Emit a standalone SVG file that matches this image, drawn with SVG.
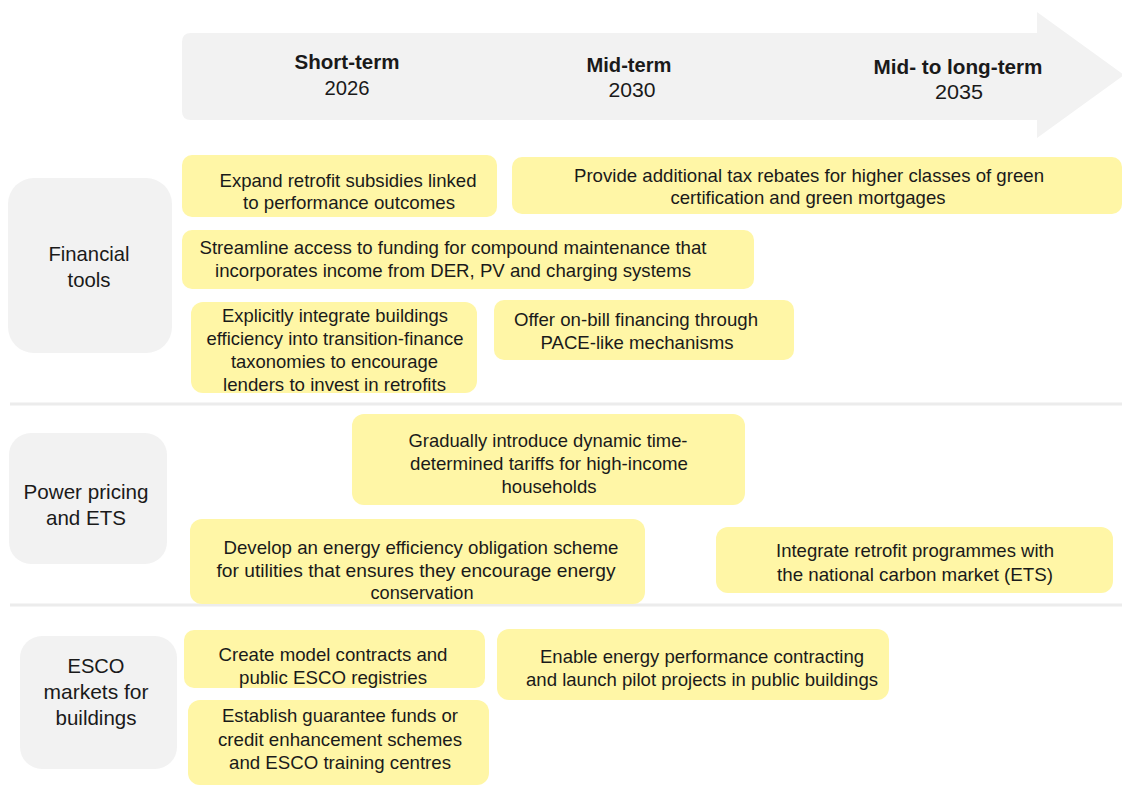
<svg xmlns="http://www.w3.org/2000/svg" width="1122" height="787" viewBox="0 0 1122 787">
<style>
text{font-family:"Liberation Sans",Arial,sans-serif;fill:#1a1a1a;text-anchor:middle}
.t{font-size:18.5px}
.h{font-size:20.5px;font-weight:bold}
.y{font-size:20px}
.cat{font-size:21px}
.yb{fill:#fff6a6}
.gb{fill:#f2f2f2}
.div{stroke:#ececec;stroke-width:3}
</style>
<rect width="1122" height="787" fill="#ffffff"/>
<g id="timeline">
<path class="gb" d="M191,33 H1037 V12 L1124,75 L1037,138 V120 H191 Q182,120 182,111 V42 Q182,33 191,33 Z"/>
<text class="h" x="347" y="69" textLength="105" lengthAdjust="spacingAndGlyphs">Short-term</text>
<text class="y" x="347" y="95" textLength="45" lengthAdjust="spacingAndGlyphs">2026</text>
<text class="h" x="629" y="72" textLength="85" lengthAdjust="spacingAndGlyphs">Mid-term</text>
<text class="y" x="632" y="97" textLength="47" lengthAdjust="spacingAndGlyphs">2030</text>
<text class="h" x="958" y="74" textLength="169" lengthAdjust="spacingAndGlyphs">Mid- to long-term</text>
<text class="y" x="959" y="99" textLength="48" lengthAdjust="spacingAndGlyphs">2035</text>
</g>
<g id="dividers">
<line class="div" x1="10" y1="404" x2="1122" y2="404"/>
<line class="div" x1="10" y1="605" x2="1122" y2="605"/>
</g>
<g id="cat-financial">
<rect class="gb" x="8" y="178" width="164" height="175" rx="26"/>
<text class="cat" x="89" y="261" textLength="81" lengthAdjust="spacingAndGlyphs">Financial</text>
<text class="cat" x="89" y="287" textLength="43" lengthAdjust="spacingAndGlyphs">tools</text>
</g>
<g id="cat-power">
<rect class="gb" x="9" y="433" width="158" height="131" rx="22"/>
<text class="cat" x="86" y="499" textLength="125" lengthAdjust="spacingAndGlyphs">Power pricing</text>
<text class="cat" x="86" y="525" textLength="80" lengthAdjust="spacingAndGlyphs">and ETS</text>
</g>
<g id="cat-esco">
<rect class="gb" x="20" y="636" width="157" height="133" rx="22"/>
<text class="cat" x="96" y="673" textLength="57" lengthAdjust="spacingAndGlyphs">ESCO</text>
<text class="cat" x="96" y="699" textLength="105" lengthAdjust="spacingAndGlyphs">markets for</text>
<text class="cat" x="96" y="725" textLength="81" lengthAdjust="spacingAndGlyphs">buildings</text>
</g>
<g id="f1">
<rect class="yb" x="182" y="155" width="315" height="62" rx="10"/>
<text class="t" x="348" y="187" textLength="257" lengthAdjust="spacingAndGlyphs">Expand retrofit subsidies linked</text>
<text class="t" x="349" y="209" textLength="212" lengthAdjust="spacingAndGlyphs">to performance outcomes</text>
</g>
<g id="f2">
<rect class="yb" x="512" y="157" width="610" height="57" rx="10"/>
<text class="t" x="809" y="182" textLength="470" lengthAdjust="spacingAndGlyphs">Provide additional tax rebates for higher classes of green</text>
<text class="t" x="808" y="204" textLength="275" lengthAdjust="spacingAndGlyphs">certification and green mortgages</text>
</g>
<g id="f3">
<rect class="yb" x="182" y="230" width="572" height="59" rx="10"/>
<text class="t" x="453" y="254" textLength="507" lengthAdjust="spacingAndGlyphs">Streamline access to funding for compound maintenance that</text>
<text class="t" x="453" y="277" textLength="476" lengthAdjust="spacingAndGlyphs">incorporates income from DER, PV and charging systems</text>
</g>
<g id="f4">
<rect class="yb" x="191" y="302" width="286" height="91" rx="12"/>
<text class="t" x="335" y="322" textLength="226" lengthAdjust="spacingAndGlyphs">Explicitly integrate buildings</text>
<text class="t" x="335" y="345" textLength="257" lengthAdjust="spacingAndGlyphs">efficiency into transition-finance</text>
<text class="t" x="334.5" y="368" textLength="207" lengthAdjust="spacingAndGlyphs">taxonomies to encourage</text>
<text class="t" x="334.5" y="391" textLength="223" lengthAdjust="spacingAndGlyphs">lenders to invest in retrofits</text>
</g>
<g id="f5">
<rect class="yb" x="494" y="300" width="300" height="60" rx="10"/>
<text class="t" x="636" y="326" textLength="244" lengthAdjust="spacingAndGlyphs">Offer on-bill financing through</text>
<text class="t" x="637" y="349" textLength="193" lengthAdjust="spacingAndGlyphs">PACE-like mechanisms</text>
</g>
<g id="p1">
<rect class="yb" x="352" y="414" width="393" height="91" rx="12"/>
<text class="t" x="548" y="447" textLength="279" lengthAdjust="spacingAndGlyphs">Gradually introduce dynamic time-</text>
<text class="t" x="549" y="470" textLength="278" lengthAdjust="spacingAndGlyphs">determined tariffs for high-income</text>
<text class="t" x="549" y="493" textLength="95" lengthAdjust="spacingAndGlyphs">households</text>
</g>
<g id="p2">
<rect class="yb" x="190" y="519" width="455" height="85" rx="12"/>
<text class="t" x="421" y="554" textLength="395" lengthAdjust="spacingAndGlyphs">Develop an energy efficiency obligation scheme</text>
<text class="t" x="416" y="577" textLength="399" lengthAdjust="spacingAndGlyphs">for utilities that ensures they encourage energy</text>
<text class="t" x="422" y="599" textLength="103" lengthAdjust="spacingAndGlyphs">conservation</text>
</g>
<g id="p3">
<rect class="yb" x="716" y="527" width="397" height="66" rx="12"/>
<text class="t" x="915" y="557" textLength="278" lengthAdjust="spacingAndGlyphs">Integrate retrofit programmes with</text>
<text class="t" x="915" y="581" textLength="276" lengthAdjust="spacingAndGlyphs">the national carbon market (ETS)</text>
</g>
<g id="e1">
<rect class="yb" x="184" y="630" width="301" height="58" rx="10"/>
<text class="t" x="333" y="661" textLength="229" lengthAdjust="spacingAndGlyphs">Create model contracts and</text>
<text class="t" x="333" y="684" textLength="188" lengthAdjust="spacingAndGlyphs">public ESCO registries</text>
</g>
<g id="e2">
<rect class="yb" x="497" y="629" width="392" height="71" rx="12"/>
<text class="t" x="702" y="663" textLength="324" lengthAdjust="spacingAndGlyphs">Enable energy performance contracting</text>
<text class="t" x="702" y="686" textLength="352" lengthAdjust="spacingAndGlyphs">and launch pilot projects in public buildings</text>
</g>
<g id="e3">
<rect class="yb" x="188" y="700" width="301" height="85" rx="12"/>
<text class="t" x="340" y="722" textLength="236" lengthAdjust="spacingAndGlyphs">Establish guarantee funds or</text>
<text class="t" x="340" y="746" textLength="244" lengthAdjust="spacingAndGlyphs">credit enhancement schemes</text>
<text class="t" x="340" y="769" textLength="222" lengthAdjust="spacingAndGlyphs">and ESCO training centres</text>
</g>
<g id="connectors"/>
</svg>
